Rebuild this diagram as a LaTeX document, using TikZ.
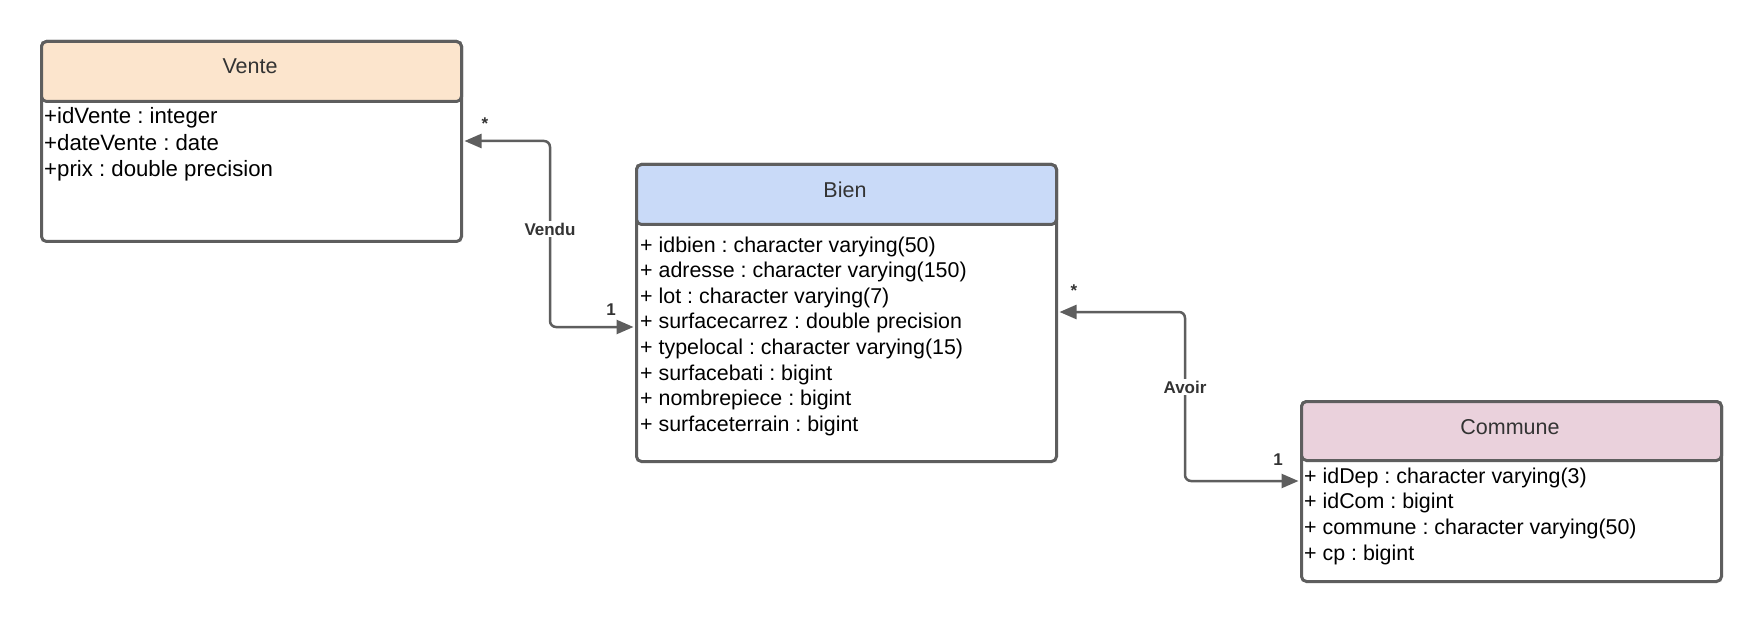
\documentclass[tikz,border=0pt]{standalone}
\usepackage{fontspec}
\setmainfont{Liberation Sans}
\usetikzlibrary{arrows.meta}
\definecolor{edgegray}{HTML}{5E5E5E}
\definecolor{venteC}{HTML}{FCE5CD}
\definecolor{bienC}{HTML}{C9DAF8}
\definecolor{communeC}{HTML}{EAD1DC}
\definecolor{ttl}{HTML}{333333}
\frenchspacing
\begin{document}
\frenchspacing
\begin{tikzpicture}[x=1pt,y=-1pt,
  classbox/.style={draw=edgegray, line width=3pt, rounded corners=5pt, fill=white, minimum width=420pt, anchor=north west, inner sep=0pt},
  headbox/.style={classbox, minimum height=60pt},
  ttlnode/.style={font=\fontsize{21.5}{26}\selectfont, text=ttl, anchor=base, inner sep=0pt},
  attr/.style={font=\fontsize{21.4}{25}\selectfont\frenchspacing, anchor=base west, inner sep=0pt},
  vattr/.style={attr, font=\fontsize{22.2}{26}\selectfont\frenchspacing},
  conn/.style={draw=edgegray, line width=2.5pt, rounded corners=6pt, {Triangle[length=17pt,width=14pt]}-{Triangle[length=17pt,width=14pt]}},
  lbl/.style={font=\bfseries\fontsize{17}{20}\selectfont, text=ttl, fill=white, inner sep=2pt},
  mult/.style={font=\bfseries\fontsize{17}{20}\selectfont, text=ttl, anchor=base, inner sep=0pt}]
\useasboundingbox[fill=white] (0,0) rectangle (1760,620);

% Vente
\node[classbox, minimum height=200pt] (vente) at (40,40) {};
\node[headbox, fill=venteC] (venteH) at (40,40) {};
\node[ttlnode] (venteT) at (250,74) {Vente};
\node[vattr] (v1) at (44,124) {+idVente : integer};
\node[vattr] (v2) at (44,150.5) {+dateVente : date};
\node[vattr] (v3) at (44,177) {+prix : double precision};

% Bien
\node[classbox, minimum height=297pt] (bien) at (635,163) {};
\node[headbox, fill=bienC] (bienH) at (635,163) {};
\node[ttlnode] (bienT) at (845,198) {Bien};
\node[attr] (b1) at (640,252) {+ idbien : character varying(50)};
\node[attr] (b2) at (640,277.6) {+ adresse : character varying(150)};
\node[attr] (b3) at (640,303.2) {+ lot : character varying(7)};
\node[attr] (b4) at (640,328.8) {+ surfacecarrez : double precision};
\node[attr] (b5) at (640,354.4) {+ typelocal : character varying(15)};
\node[attr] (b6) at (640,380) {+ surfacebati : bigint};
\node[attr] (b7) at (640,405.6) {+ nombrepiece : bigint};
\node[attr] (b8) at (640,431.2) {+ surfaceterrain : bigint};

% Commune
\node[classbox, minimum height=180pt] (commune) at (1300,400) {};
\node[headbox, minimum height=59pt, fill=communeC] (communeH) at (1300,400) {};
\node[ttlnode] (communeT) at (1510,434) {Commune};
\node[attr] (c1) at (1304,483) {+ idDep : character varying(3)};
\node[attr] (c2) at (1304,508.7) {+ idCom : bigint};
\node[attr] (c3) at (1304,534.4) {+ commune : character varying(50)};
\node[attr] (c4) at (1304,560) {+ cp : bigint};

% Vendu
\draw[conn] ([xshift=1.5pt]vente.east |- 0,141) -- (550,141) -- (550,327) -- ([xshift=-1.5pt]bien.west |- 0,327);
\node[lbl] (vendu) at (550,229) {Vendu};
\node[mult] (m1) at (485,130) {*};
\node[mult] (m2) at (611,315) {1};

% Avoir
\draw[conn] ([xshift=1.5pt]bien.east |- 0,312) -- (1185,312) -- (1185,481) -- ([xshift=-1.5pt]commune.west |- 0,481);
\node[lbl] (avoir) at (1185,387) {Avoir};
\node[mult] (m3) at (1074,296) {*};
\node[mult] (m4) at (1278,465) {1};
\end{tikzpicture}
\end{document}
